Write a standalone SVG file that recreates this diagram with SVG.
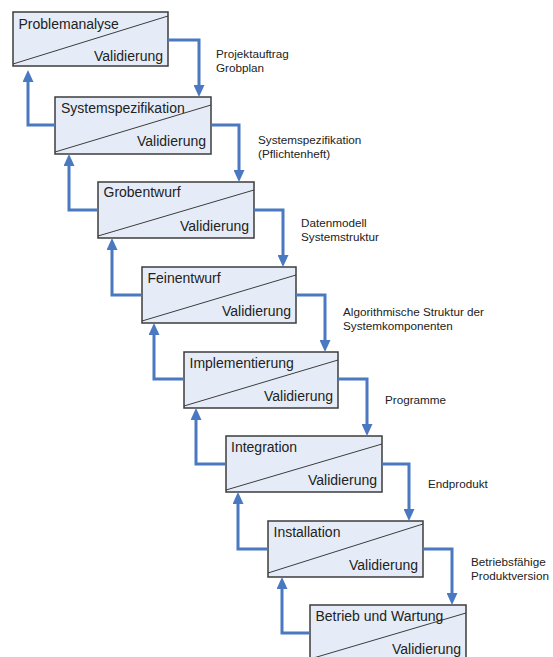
<svg xmlns="http://www.w3.org/2000/svg" width="553" height="657" viewBox="0 0 553 657">
  <style>
    .box { fill: #e6ecf7; stroke: #3c3c3c; stroke-width: 1.5; }
    .diag { stroke: #3c3c3c; stroke-width: 1; }
    .title { font-family: "Liberation Sans", Arial, sans-serif; font-size: 14px; fill: #222; }
    .val { font-family: "Liberation Sans", Arial, sans-serif; font-size: 14px; fill: #222; text-anchor: end; }
    .lbl { font-family: "Liberation Sans", Arial, sans-serif; font-size: 11.7px; fill: #222; }
    .flow { fill: none; stroke: #4a79c2; stroke-width: 3; stroke-linejoin: miter; }
  </style>
  <defs>
    <marker id="head" viewBox="0 0 12 11" refX="2" refY="5.5" markerWidth="12" markerHeight="11" markerUnits="userSpaceOnUse" orient="auto">
      <path d="M0,0 L12,5.5 L0,11 Z" fill="#4a79c2"/>
    </marker>
  </defs>
  <rect width="553" height="657" fill="#ffffff"/>

  <!-- phases -->
  <g id="problemanalyse">
    <rect class="box" x="13" y="12" width="155" height="54"/>
    <line class="diag" x1="13" y1="64" x2="168" y2="16"/>
    <text class="title" x="18.5" y="29">Problemanalyse</text>
    <text class="val" x="163" y="61">Validierung</text>
  </g>
  <g id="systemspezifikation">
    <rect class="box" x="55" y="97" width="156" height="57"/>
    <line class="diag" x1="55" y1="152" x2="211" y2="105"/>
    <text class="title" x="61" y="113">Systemspezifikation</text>
    <text class="val" x="206" y="146">Validierung</text>
  </g>
  <g id="grobentwurf">
    <rect class="box" x="98" y="182" width="156" height="56"/>
    <line class="diag" x1="98" y1="236" x2="254" y2="190"/>
    <text class="title" x="103.5" y="197">Grobentwurf</text>
    <text class="val" x="249" y="231">Validierung</text>
  </g>
  <g id="feinentwurf">
    <rect class="box" x="142" y="267" width="154" height="56"/>
    <line class="diag" x1="142" y1="321" x2="296" y2="275"/>
    <text class="title" x="147.5" y="283">Feinentwurf</text>
    <text class="val" x="291" y="316">Validierung</text>
  </g>
  <g id="implementierung">
    <rect class="box" x="184" y="352" width="154" height="56"/>
    <line class="diag" x1="184" y1="406" x2="338" y2="360"/>
    <text class="title" x="189.5" y="368">Implementierung</text>
    <text class="val" x="333" y="401">Validierung</text>
  </g>
  <g id="integration">
    <rect class="box" x="226" y="436" width="156" height="56"/>
    <line class="diag" x1="226" y1="490" x2="382" y2="444"/>
    <text class="title" x="231" y="452">Integration</text>
    <text class="val" x="377" y="485">Validierung</text>
  </g>
  <g id="installation">
    <rect class="box" x="268" y="521" width="155" height="56"/>
    <line class="diag" x1="268" y1="573" x2="423" y2="524"/>
    <text class="title" x="273.5" y="537">Installation</text>
    <text class="val" x="418" y="570">Validierung</text>
  </g>
  <g id="betrieb">
    <rect class="box" x="310" y="605" width="156" height="56"/>
    <line class="diag" x1="310" y1="659" x2="466" y2="613"/>
    <text class="title" x="315.5" y="621">Betrieb und Wartung</text>
    <text class="val" x="461" y="654">Validierung</text>
  </g>

  <!-- forward and feedback connectors -->
  <g id="connectors">
    <path class="flow" marker-end="url(#head)" d="M168,40 H199 V87"/>
    <path class="flow" marker-end="url(#head)" d="M211,125 H239 V172"/>
    <path class="flow" marker-end="url(#head)" d="M254,210 H283 V257"/>
    <path class="flow" marker-end="url(#head)" d="M296,295 H325 V342"/>
    <path class="flow" marker-end="url(#head)" d="M338,379 H367 V426"/>
    <path class="flow" marker-end="url(#head)" d="M382,464 H409 V511"/>
    <path class="flow" marker-end="url(#head)" d="M423,549 H452 V595"/>

    <path class="flow" marker-end="url(#head)" d="M55,125 H28 V80"/>
    <path class="flow" marker-end="url(#head)" d="M98,210 H69 V164"/>
    <path class="flow" marker-end="url(#head)" d="M142,295 H112 V248"/>
    <path class="flow" marker-end="url(#head)" d="M184,379 H154 V333"/>
    <path class="flow" marker-end="url(#head)" d="M226,464 H196 V418"/>
    <path class="flow" marker-end="url(#head)" d="M268,549 H238 V502"/>
    <path class="flow" marker-end="url(#head)" d="M310,633 H282 V587"/>
  </g>

  <!-- phase results -->
  <g id="labels">
    <text class="lbl" x="216" y="58">Projektauftrag</text>
    <text class="lbl" x="216" y="72">Grobplan</text>
    <text class="lbl" x="258" y="144">Systemspezifikation</text>
    <text class="lbl" x="258" y="158">(Pflichtenheft)</text>
    <text class="lbl" x="301" y="227">Datenmodell</text>
    <text class="lbl" x="301" y="241">Systemstruktur</text>
    <text class="lbl" x="343" y="316">Algorithmische Struktur der</text>
    <text class="lbl" x="343" y="330">Systemkomponenten</text>
    <text class="lbl" x="385" y="404">Programme</text>
    <text class="lbl" x="428" y="488">Endprodukt</text>
    <text class="lbl" x="471" y="566">Betriebsfähige</text>
    <text class="lbl" x="471" y="580">Produktversion</text>
  </g>
</svg>
